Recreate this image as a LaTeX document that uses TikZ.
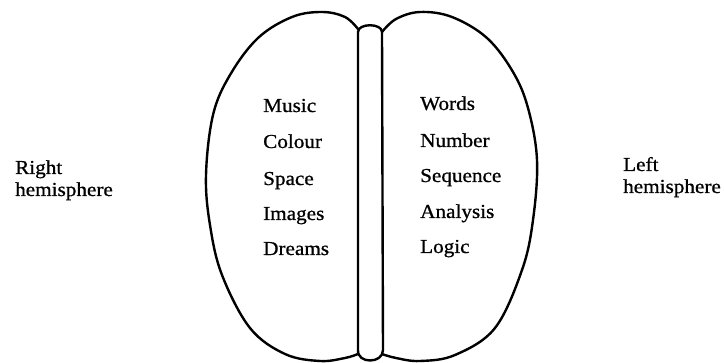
\documentclass[tikz,border=0pt]{standalone}
\usepackage{fontspec}
\setmainfont{Liberation Serif}[FakeStretch=1.07,FakeBold=0.8]
\begin{document}
\begin{tikzpicture}[x=1pt,y=-1pt,
  outline/.style={line width=2.4pt,line join=round,line cap=round},
  item/.style={anchor=base west,inner sep=0pt,font=\fontsize{19.8}{22}\selectfont},
  label/.style={anchor=base west,inner sep=0pt,align=left,font=\fontsize{19.8}{22}\selectfont}]
\useasboundingbox (0,0) rectangle (724,363);
% left lobe
\draw[outline] plot[smooth,tension=0.6] coordinates {(358,29) (345,17) (322,12) (292,17) (258,38) (230,75) (213,115) (206,175) (210,225) (222,275) (250,328) (285,354) (320,361) (345,358) (358,354)};
% right lobe
\draw[outline] plot[smooth,tension=0.6] coordinates {(382,32) (396,19) (420,12) (452,17) (487,38) (513,72) (528,108) (537,160) (533,220) (522,270) (495,328) (455,355) (420,361) (396,358) (382,354)};
% central strip
\draw[outline] (358,350) -- (358,32) .. controls (358,23) and (382,23) .. (382,32) -- (383,350) .. controls (383,364) and (357,364) .. (358,350);
% left column
\node[item] (music) at (263,112) {Music};
\node[item] (colour) at (263,148) {Colour};
\node[item] (space) at (263,185) {Space};
\node[item] (images) at (263,220) {Images};
\node[item] (dreams) at (263,255) {Dreams};
% right column
\node[item] (words) at (420,110) {Words};
\node[item] (number) at (420,147) {Number};
\node[item] (sequence) at (420,182) {Sequence};
\node[item] (analysis) at (420,218) {Analysis};
\node[item] (logic) at (420,253) {Logic};
% hemisphere labels
\node[label] (rh) at (15,196) {Right\\hemisphere};
\node[label] (lh) at (623,193) {Left\\hemisphere};
\end{tikzpicture}
\end{document}
